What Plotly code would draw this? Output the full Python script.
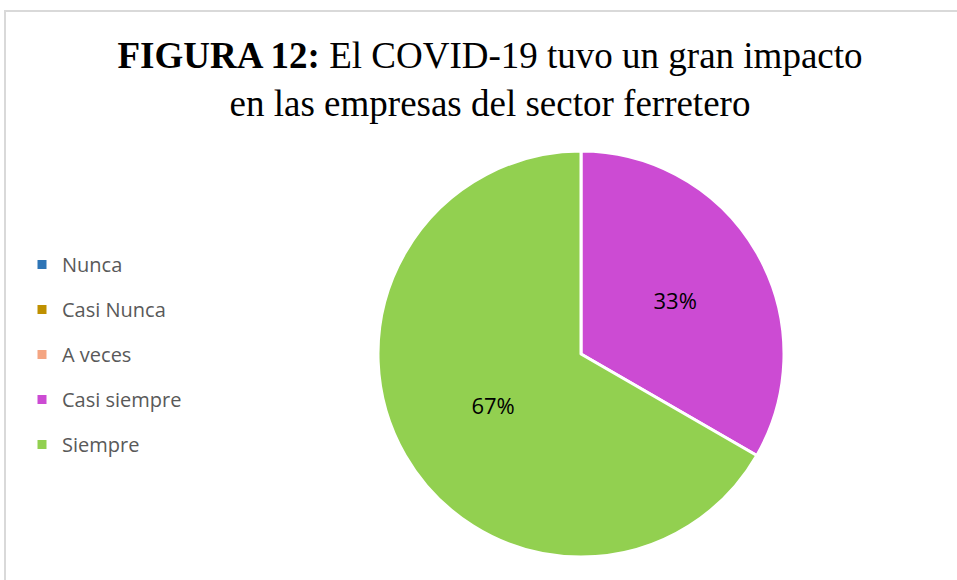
import plotly.graph_objects as go

categories = ["Nunca", "Casi Nunca", "A veces", "Casi siempre", "Siempre"]
values = [0, 0, 0, 1, 2]
colors = ["#2E75B6", "#BF9000", "#F4A582", "#CC4BD3", "#92D050"]

title_bold = "FIGURA 12:"
title_rest = "El COVID-19 tuvo un gran impacto<br>en las empresas del sector ferretero"

W, H = 957, 580
fig = go.Figure()

fig.add_trace(go.Pie(
    labels=categories,
    values=values,
    marker=dict(colors=colors, line=dict(color="white", width=3)),
    sort=False,
    direction="clockwise",
    rotation=0,
    texttemplate="%{percent:.0%}",
    textposition="inside",
    insidetextorientation="horizontal",
    textfont=dict(family="Open Sans", size=22, color="#000000"),
    showlegend=False,
    hoverinfo="label+percent",
    domain=dict(x=[378 / W, 784 / W], y=[1 - 557 / H, 1 - 151 / H]),
))

for i, (cat, col) in enumerate(zip(categories, colors)):
    fig.add_trace(go.Scatter(
        x=[None], y=[None], mode="markers", name=cat,
        marker=dict(symbol="square", size=9, color=col),
        legendgroup=cat, showlegend=True,
    ))

fig.update_layout(
    width=W, height=H,
    margin=dict(l=0, r=0, t=0, b=0),
    paper_bgcolor="white", plot_bgcolor="white",
    xaxis=dict(visible=False), yaxis=dict(visible=False),
    title=dict(
        text=f"<b>{title_bold}</b> {title_rest}",
        font=dict(family="Liberation Serif", size=37, color="#000000"),
        x=490 / W, xanchor="center", y=1 - 68 / H, yanchor="top",
    ),
    legend=dict(
        x=22 / W, y=1 - 245 / H, xanchor="left", yanchor="top",
        font=dict(family="Open Sans", size=20, color="#595959"),
        tracegroupgap=16, itemwidth=30,
        bgcolor="rgba(0,0,0,0)",
    ),
    shapes=[dict(type="rect", xref="paper", yref="paper",
                 x0=5 / W, x1=1.02, y0=-0.02, y1=1 - 11 / H,
                 line=dict(color="#D9D9D9", width=2), fillcolor="rgba(0,0,0,0)", layer="below")],
)

fig.write_html("out.html", config={"displayModeBar": False},
               post_script="document.body.style.margin='0';document.body.style.overflow='hidden';")
